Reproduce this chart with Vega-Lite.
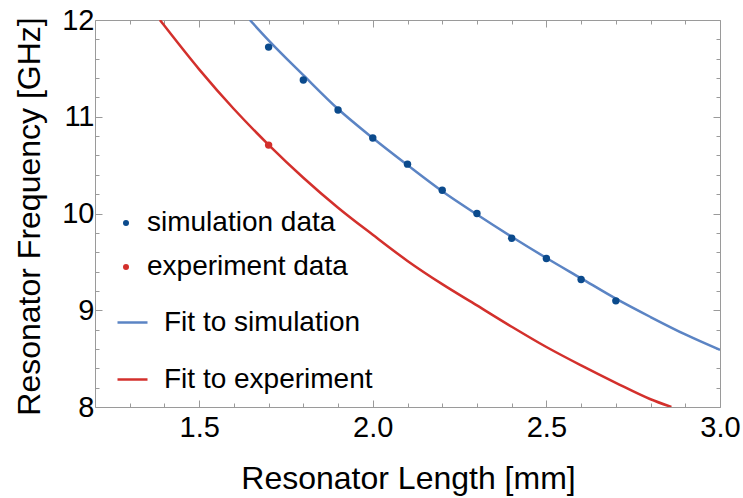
{
  "$schema": "https://vega.github.io/schema/vega-lite/v6.json",
  "width": 625,
  "height": 387,
  "autosize": "none",
  "padding": {"left": 95, "top": 20, "right": 23, "bottom": 91},
  "background": "white",
  "config": {
    "font": "Liberation Sans",
    "view": {"stroke": null},
    "axis": {"grid": false, "domainColor": "#9a9a9a", "tickColor": "#9a9a9a", "domainWidth": 1, "tickWidth": 1, "labelColor": "black", "titleColor": "black", "titleFontWeight": "normal", "labelFont": "Liberation Sans", "titleFont": "Liberation Sans"},
    "legend": {"labelFont": "Liberation Sans", "labelColor": "black", "padding": 0, "labelLimit": 500}
  },
  "datasets": {
    "fits": [
      {"L": 1.646, "f": 12.0, "series": "Fit to simulation"},
      {"L": 1.7, "f": 11.79, "series": "Fit to simulation"},
      {"L": 1.8, "f": 11.43, "series": "Fit to simulation"},
      {"L": 1.9, "f": 11.08, "series": "Fit to simulation"},
      {"L": 2.0, "f": 10.78, "series": "Fit to simulation"},
      {"L": 2.1, "f": 10.5, "series": "Fit to simulation"},
      {"L": 2.2, "f": 10.23, "series": "Fit to simulation"},
      {"L": 2.3, "f": 9.99, "series": "Fit to simulation"},
      {"L": 2.4, "f": 9.76, "series": "Fit to simulation"},
      {"L": 2.5, "f": 9.54, "series": "Fit to simulation"},
      {"L": 2.6, "f": 9.33, "series": "Fit to simulation"},
      {"L": 2.7, "f": 9.12, "series": "Fit to simulation"},
      {"L": 2.8, "f": 8.93, "series": "Fit to simulation"},
      {"L": 2.9, "f": 8.75, "series": "Fit to simulation"},
      {"L": 3.0, "f": 8.59, "series": "Fit to simulation"},
      {"L": 1.387, "f": 12.0, "series": "Fit to experiment"},
      {"L": 1.4, "f": 11.94, "series": "Fit to experiment"},
      {"L": 1.5, "f": 11.49, "series": "Fit to experiment"},
      {"L": 1.6, "f": 11.08, "series": "Fit to experiment"},
      {"L": 1.7, "f": 10.71, "series": "Fit to experiment"},
      {"L": 1.8, "f": 10.37, "series": "Fit to experiment"},
      {"L": 1.9, "f": 10.06, "series": "Fit to experiment"},
      {"L": 2.0, "f": 9.78, "series": "Fit to experiment"},
      {"L": 2.1, "f": 9.51, "series": "Fit to experiment"},
      {"L": 2.2, "f": 9.27, "series": "Fit to experiment"},
      {"L": 2.3, "f": 9.05, "series": "Fit to experiment"},
      {"L": 2.4, "f": 8.83, "series": "Fit to experiment"},
      {"L": 2.5, "f": 8.62, "series": "Fit to experiment"},
      {"L": 2.6, "f": 8.43, "series": "Fit to experiment"},
      {"L": 2.7, "f": 8.25, "series": "Fit to experiment"},
      {"L": 2.8, "f": 8.08, "series": "Fit to experiment"},
      {"L": 2.86, "f": 8.0, "series": "Fit to experiment"}
    ],
    "points": [
      {"L": 1.7, "f": 11.72, "series": "simulation data"},
      {"L": 1.8, "f": 11.38, "series": "simulation data"},
      {"L": 1.9, "f": 11.07, "series": "simulation data"},
      {"L": 2.0, "f": 10.78, "series": "simulation data"},
      {"L": 2.1, "f": 10.51, "series": "simulation data"},
      {"L": 2.2, "f": 10.24, "series": "simulation data"},
      {"L": 2.3, "f": 10.0, "series": "simulation data"},
      {"L": 2.4, "f": 9.745, "series": "simulation data"},
      {"L": 2.5, "f": 9.535, "series": "simulation data"},
      {"L": 2.6, "f": 9.318, "series": "simulation data"},
      {"L": 2.7, "f": 9.097, "series": "simulation data"},
      {"L": 1.7, "f": 10.707, "series": "experiment data"}
    ]
  },
  "resolve": {"axis": {"x": "independent", "y": "independent"}},
  "layer": [
    {
      "data": {"name": "fits"},
      "transform": [{"filter": "datum.series === 'Fit to simulation'"}],
      "mark": {"type": "line", "strokeWidth": 2.5, "interpolate": "monotone", "clip": true},
      "encoding": {
        "x": {"field": "L", "type": "quantitative", "scale": {"domain": [1.2, 3.0], "nice": false, "zero": false},
          "axis": {"orient": "bottom", "values": [1.5, 2.0, 2.5, 3.0], "format": ".1f", "tickSize": -7, "labelFontSize": 29, "labelPadding": 13, "labelOverlap": false, "labelFlush": false,
            "title": "Resonator Length [mm]", "titleFontSize": 32, "titleX": 313, "titleY": 81.5, "titleBaseline": "alphabetic", "titleAlign": "center"}},
        "y": {"field": "f", "type": "quantitative", "scale": {"domain": [8, 12], "nice": false, "zero": false},
          "axis": {"orient": "left", "values": [8, 9, 10, 11, 12], "format": "d", "tickSize": -7, "labelFontSize": 29, "labelPadding": 8, "labelOverlap": false, "labelFlush": false,
            "title": "Resonator Frequency [GHz]", "titleFontSize": 32, "titleX": -56, "titleY": 196, "titleBaseline": "alphabetic", "titleAlign": "center", "titleAngle": 270}},
        "stroke": {"field": "series", "type": "nominal",
          "scale": {"domain": ["Fit to simulation", "Fit to experiment"], "range": ["#5b84c4", "#d3302c"]},
          "legend": {"title": null, "orient": "none", "legendX": 21, "legendY": 286, "symbolType": "stroke", "symbolSize": 900, "symbolStrokeWidth": 2.5, "labelFontSize": 28, "labelOffset": 15, "rowPadding": 26,
            "encode": {"symbols": {"update": {"stroke": {"signal": "datum.value === 'Fit to simulation' ? '#5866d2' : '#d63a3a'"}}}}}}
      }
    },
    {
      "data": {"name": "fits"},
      "transform": [{"filter": "datum.series === 'Fit to experiment'"}],
      "mark": {"type": "line", "strokeWidth": 2.5, "interpolate": "monotone", "clip": true},
      "encoding": {
        "x": {"field": "L", "type": "quantitative",
          "axis": {"orient": "bottom", "values": [1.3, 1.4, 1.6, 1.7, 1.8, 1.9, 2.1, 2.2, 2.3, 2.4, 2.6, 2.7, 2.8, 2.9], "tickSize": -4, "labels": false, "domain": false, "title": null}},
        "y": {"field": "f", "type": "quantitative",
          "axis": {"orient": "left", "values": [8.2, 8.4, 8.6, 8.8, 9.2, 9.4, 9.6, 9.8, 10.2, 10.4, 10.6, 10.8, 11.2, 11.4, 11.6, 11.8], "tickSize": -4, "labels": false, "domain": false, "title": null}},
        "stroke": {"field": "series", "type": "nominal"}
      }
    },
    {
      "data": {"name": "points"},
      "transform": [{"filter": "datum.series === 'simulation data'"}],
      "mark": {"type": "point", "filled": true, "shape": "circle", "size": 55, "opacity": 1},
      "encoding": {
        "x": {"field": "L", "type": "quantitative",
          "axis": {"orient": "top", "values": [1.5, 2.0, 2.5, 3.0], "tickSize": -7, "labels": false, "title": null}},
        "y": {"field": "f", "type": "quantitative",
          "axis": {"orient": "right", "values": [8, 9, 10, 11, 12], "tickSize": -7, "labels": false, "title": null}},
        "color": {"field": "series", "type": "nominal",
          "scale": {"domain": ["simulation data", "experiment data"], "range": ["#0b4a8c", "#d3302c"]},
          "legend": {"title": null, "orient": "none", "legendX": 17, "legendY": 189, "symbolType": "circle", "symbolSize": 36, "symbolStrokeWidth": 0, "labelFontSize": 28, "labelOffset": 7, "rowPadding": 16}}
      }
    },
    {
      "data": {"name": "points"},
      "transform": [{"filter": "datum.series === 'experiment data'"}],
      "mark": {"type": "point", "filled": true, "shape": "circle", "size": 55, "opacity": 1},
      "encoding": {
        "x": {"field": "L", "type": "quantitative",
          "axis": {"orient": "top", "values": [1.3, 1.4, 1.6, 1.7, 1.8, 1.9, 2.1, 2.2, 2.3, 2.4, 2.6, 2.7, 2.8, 2.9], "tickSize": -4, "labels": false, "domain": false, "title": null}},
        "y": {"field": "f", "type": "quantitative",
          "axis": {"orient": "right", "values": [8.2, 8.4, 8.6, 8.8, 9.2, 9.4, 9.6, 9.8, 10.2, 10.4, 10.6, 10.8, 11.2, 11.4, 11.6, 11.8], "tickSize": -4, "labels": false, "domain": false, "title": null}},
        "color": {"field": "series", "type": "nominal"}
      }
    }
  ]
}
